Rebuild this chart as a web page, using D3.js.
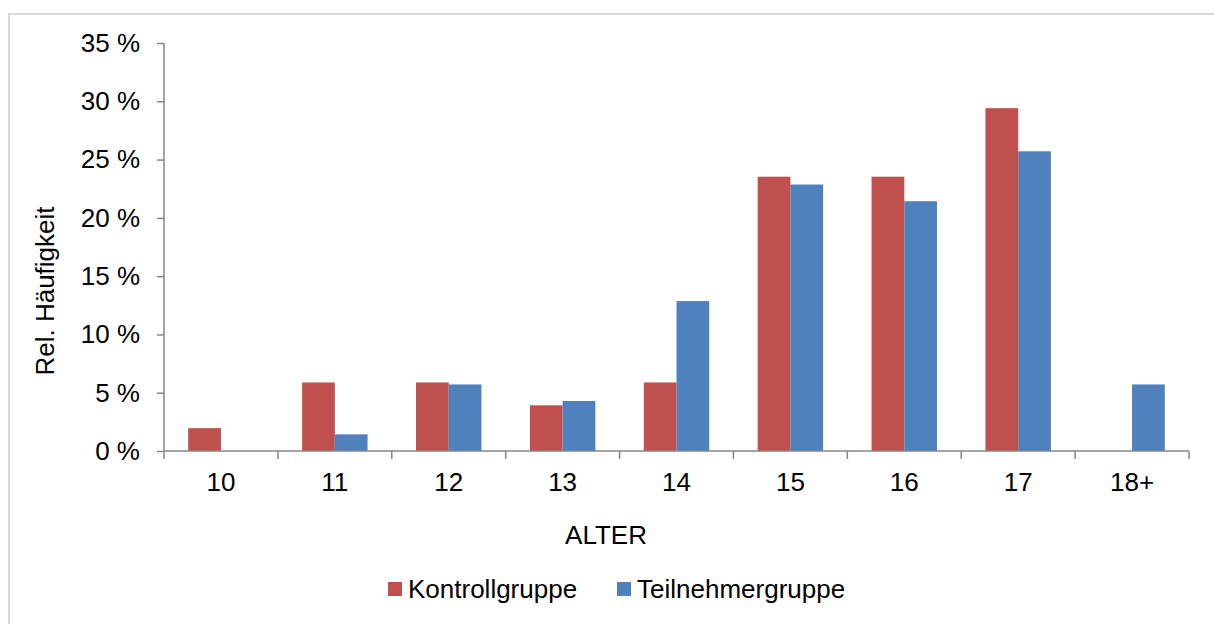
<!DOCTYPE html>
<html>
<head>
<meta charset="utf-8">
<script src="https://cdn.jsdelivr.net/npm/d3@7"></script>
<style>
  html, body { margin: 0; padding: 0; background: #fff; }
  svg { display: block; font-family: "Liberation Sans", Arial, sans-serif; }
</style>
</head>
<body>
<div id="chart"></div>
<script>
// Altersverteilung (relative Häufigkeit in %)
const ages = ["10", "11", "12", "13", "14", "15", "16", "17", "18+"];
const seriesNames = ["Kontrollgruppe", "Teilnehmergruppe"];
const kontrollgruppe = [1.96, 5.88, 5.88, 3.92, 5.88, 23.53, 23.53, 29.41, 0];
const teilnehmergruppe = [0, 1.43, 5.71, 4.29, 12.86, 22.86, 21.43, 25.71, 5.71];
const yTicks = [0, 5, 10, 15, 20, 25, 30, 35];

const width = 1214, height = 624;
const colors = {Kontrollgruppe: "#C0504D", Teilnehmergruppe: "#4F81BD"};
const axisColor = "#868686";
const fontSize = 26;

const rows = ages.map((a, i) => ({
  age: a,
  values: [
    {key: "Kontrollgruppe", value: kontrollgruppe[i]},
    {key: "Teilnehmergruppe", value: teilnehmergruppe[i]}
  ]
}));

const svg = d3.select("#chart").append("svg")
  .attr("width", width)
  .attr("height", height);

// Rahmen (nur links und oben sichtbar)
svg.append("path")
  .attr("d", `M9,${height} L9,14 L${width},14`)
  .attr("fill", "none")
  .attr("stroke", "#d9d9d9")
  .attr("stroke-width", 2);

const plot = {left: 164, right: 1189, top: 43, bottom: 451};

const x0 = d3.scaleBand()
  .domain(ages)
  .range([plot.left, plot.right])
  .padding(0);

const x1 = d3.scaleBand()
  .domain(seriesNames)
  .range([0, x0.bandwidth()])
  .paddingInner(0)
  .paddingOuter(0.74);

const y = d3.scaleLinear()
  .domain([0, 35])
  .range([plot.bottom, plot.top]);

// Balken
svg.append("g")
  .selectAll("g")
  .data(rows)
  .join("g")
  .attr("transform", d => `translate(${x0(d.age)},0)`)
  .selectAll("rect")
  .data(d => d.values.filter(v => v.value > 0))
  .join("rect")
  .attr("x", d => x1(d.key))
  .attr("y", d => y(d.value))
  .attr("width", x1.bandwidth())
  .attr("height", d => y(0) - y(d.value))
  .attr("fill", d => colors[d.key]);

// Y-Achse
const yAxis = svg.append("g")
  .attr("transform", `translate(${plot.left},0)`)
  .call(d3.axisLeft(y).tickValues(yTicks).tickSize(7).tickPadding(17)
    .tickFormat(d => d + " %"));
yAxis.selectAll("path, line").attr("stroke", axisColor).attr("stroke-width", 1.5);
yAxis.select(".domain").attr("d", `M0,${plot.top}V${plot.bottom}`);
yAxis.selectAll("text")
  .attr("fill", "#000")
  .style("font-size", fontSize + "px")
  .style("font-family", "'Liberation Sans', Arial, sans-serif");

// X-Achse
const xAxis = svg.append("g")
  .attr("transform", `translate(0,${plot.bottom})`);
xAxis.append("line")
  .attr("x1", plot.left).attr("x2", plot.right)
  .attr("stroke", axisColor).attr("stroke-width", 1.5);
const boundaries = ages.map(a => x0(a)).concat([x0(ages[ages.length - 1]) + x0.bandwidth()]);
xAxis.selectAll("line.tick")
  .data(boundaries)
  .join("line")
  .attr("class", "tick")
  .attr("x1", d => d).attr("x2", d => d)
  .attr("y1", 0).attr("y2", 8)
  .attr("stroke", axisColor).attr("stroke-width", 1.5);
xAxis.selectAll("text")
  .data(ages)
  .join("text")
  .attr("x", d => x0(d) + x0.bandwidth() / 2)
  .attr("y", 40)
  .attr("text-anchor", "middle")
  .attr("font-size", fontSize)
  .attr("fill", "#000")
  .text(d => d);

// Achsentitel
svg.append("text")
  .attr("x", 606)
  .attr("y", 544)
  .attr("text-anchor", "middle")
  .attr("font-size", fontSize)
  .attr("fill", "#000")
  .text("ALTER");

svg.append("text")
  .attr("transform", "translate(54,291) rotate(-90)")
  .attr("text-anchor", "middle")
  .attr("font-size", fontSize)
  .attr("fill", "#000")
  .text("Rel. Häufigkeit");

// Legende
const legendX = [388, 617];
const legend = svg.append("g")
  .selectAll("g")
  .data(seriesNames)
  .join("g")
  .attr("transform", (d, i) => `translate(${legendX[i]},582)`);
legend.append("rect")
  .attr("width", 14).attr("height", 14)
  .attr("fill", d => colors[d]);
legend.append("text")
  .attr("x", 20)
  .attr("y", 16)
  .attr("font-size", fontSize)
  .attr("fill", "#000")
  .text(d => d);
</script>
</body>
</html>
